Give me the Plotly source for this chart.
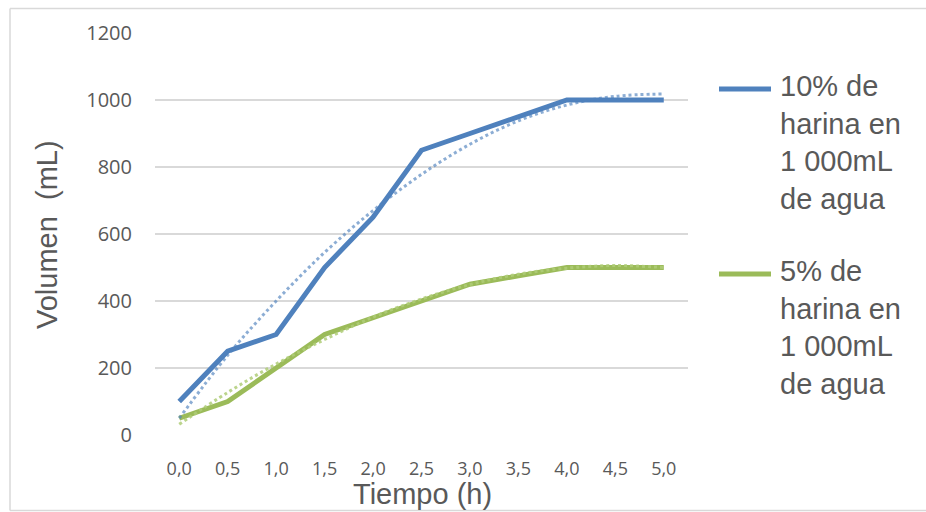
import plotly.graph_objects as go

# ---- data ----
tiempo = ["0,0", "0,5", "1,0", "1,5", "2,0", "2,5", "3,0", "3,5", "4,0", "4,5", "5,0"]
vol_10 = [100, 250, 300, 500, 650, 850, 900, 950, 1000, 1000, 1000]
vol_5 = [50, 100, 200, 300, 350, 400, 450, 475, 500, 500, 500]
# dotted trend lines (as drawn in the reference)
tend_10 = [50, 238, 400, 545, 670, 778, 868, 938, 985, 1011, 1018]
tend_5 = [32, 127, 212, 285, 352, 406, 449, 480, 498, 506, 500]

name_10 = "10% de<br>harina en<br>1 000mL<br>de agua"
name_5 = "5% de<br>harina en<br>1 000mL<br>de agua"
y_ticks = [0, 200, 400, 600, 800, 1000, 1200]

BLUE = "#4F81BD"
GREEN = "#9BBB59"
TXT = "#595959"
GRID = "#D9D9D9"

W, H = 926, 512
# plot area in page pixels: x 155..688, y 33..435
L, R, T, B = 155, 926 - 688, 33, 512 - 435
pw = W - L - R
ph = H - T - B


def px(x):
    return (x - L) / pw


def py(y):
    return (T + ph - y) / ph


fig = go.Figure()
fig.add_trace(go.Scatter(x=tiempo, y=vol_10, mode="lines", name="10%",
                         line=dict(color=BLUE, width=5), showlegend=False))
fig.add_trace(go.Scatter(x=tiempo, y=vol_5, mode="lines", name="5%",
                         line=dict(color=GREEN, width=5), showlegend=False))
fig.add_trace(go.Scatter(x=tiempo, y=tend_10, mode="lines", line_shape="spline",
                         line=dict(color="rgba(79,129,189,0.65)", width=3, dash="dot"),
                         showlegend=False))
fig.add_trace(go.Scatter(x=tiempo, y=tend_5, mode="lines", line_shape="spline",
                         line=dict(color="rgba(175,205,120,0.85)", width=3, dash="dot"),
                         showlegend=False))

fig.update_xaxes(type="category", range=[-0.5, 10.5], showgrid=False, zeroline=False,
                 showline=False, ticks="", ticklabelstandoff=21,
                 tickfont=dict(family="Open Sans", size=18, color=TXT))
fig.update_yaxes(range=[0, 1200], tickvals=y_ticks, showgrid=True, gridcolor=GRID,
                 gridwidth=1.5, zeroline=False, showline=False, ticks="",
                 ticklabelstandoff=22,
                 tickfont=dict(family="Open Sans", size=20, color=TXT))

border = dict(color=GRID, width=1.5)
shapes = [
    dict(type="line", xref="paper", yref="paper", x0=px(10), x1=px(926), y0=py(8.5), y1=py(8.5),
         line=border, layer="below"),
    dict(type="line", xref="paper", yref="paper", x0=px(10), x1=px(926), y0=py(510.5), y1=py(510.5),
         line=border, layer="below"),
    dict(type="line", xref="paper", yref="paper", x0=px(10), x1=px(10), y0=py(8.5), y1=py(510.5),
         line=border, layer="below"),
    dict(type="line", xref="paper", yref="paper", x0=px(719), x1=px(771), y0=py(89), y1=py(89),
         line=dict(color=BLUE, width=5)),
    dict(type="line", xref="paper", yref="paper", x0=px(719), x1=px(771), y0=py(274), y1=py(274),
         line=dict(color=GREEN, width=5)),
]
annotations = [
    dict(text=name_10, xref="paper", yref="paper", x=px(778), y=py(68), xanchor="left",
         yanchor="top", align="left", showarrow=False,
         font=dict(family="Liberation Sans", size=29, color=TXT)),
    dict(text=name_5, xref="paper", yref="paper", x=px(778), y=py(253), xanchor="left",
         yanchor="top", align="left", showarrow=False,
         font=dict(family="Liberation Sans", size=29, color=TXT)),
    dict(text="Tiempo (h)", xref="paper", yref="paper", x=px(422), y=py(494),
         xanchor="center", yanchor="middle", showarrow=False,
         font=dict(family="Liberation Sans", size=29, color=TXT)),
    dict(text="Volumen\u00a0\u00a0(mL)", xref="paper", yref="paper", x=px(47), y=py(235),
         xanchor="center", yanchor="middle", textangle=-90, showarrow=False,
         font=dict(family="Liberation Sans", size=29, color=TXT)),
]

fig.update_layout(width=W, height=H, margin=dict(l=L, r=R, t=T, b=B),
                  paper_bgcolor="white", plot_bgcolor="white",
                  shapes=shapes, annotations=annotations, showlegend=False)

fig.write_html("out.html", config={"displayModeBar": False},
               post_script="document.body.style.margin='0';document.body.style.overflow='hidden';")
